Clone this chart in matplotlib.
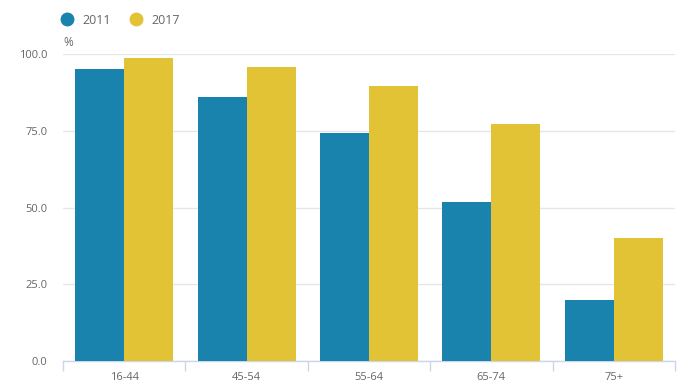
import matplotlib
matplotlib.use("Agg")
from matplotlib import pyplot as plt
from matplotlib.lines import Line2D
import numpy as np

plt.rcParams['font.family'] = ['Open Sans', 'DejaVu Sans']

categories = ["16-44", "45-54", "55-64", "65-74", "75+"]
series_names = ["2011", "2017"]
values_2011 = [95.1, 86.0, 74.3, 51.8, 19.9]
values_2017 = [98.7, 95.8, 89.6, 77.2, 40.1]
colors = ["#1a83ad", "#e3c336"]

fig = plt.figure(figsize=(6.9, 3.9), dpi=100)
ax = fig.add_axes([63/690, 29/390, 612/690, 307/390])

x = np.arange(len(categories))
w = 0.4
ax.bar(x - w/2, values_2011, width=w, color=colors[0], zorder=3)
ax.bar(x + w/2, values_2017, width=w, color=colors[1], zorder=3)

ax.set_xlim(-0.5, len(categories) - 0.5)
ax.set_ylim(0, 100)
ax.set_yticks([0, 25, 50, 75, 100])
ax.set_yticklabels(["0.0", "25.0", "50.0", "75.0", "100.0"])
ax.set_xticks(x)
ax.set_xticklabels(categories)
ax.set_xticks(np.arange(len(categories) + 1) - 0.5, minor=True)
ax.tick_params(axis='x', which='major', length=0, pad=8, labelsize=8, labelcolor="#666666")
ax.tick_params(axis='x', which='minor', length=7, width=1, color="#ccd6eb")
ax.tick_params(axis='y', length=0, pad=11, labelsize=8, labelcolor="#666666")
ax.grid(axis='y', color="#e6e6e6", linewidth=1, zorder=0)

for s in ["top", "right", "left"]:
    ax.spines[s].set_visible(False)
ax.spines["bottom"].set_color("#ccd6eb")
ax.spines["bottom"].set_linewidth(1)

ax.text(0, 1.015, "%", transform=ax.transAxes, fontsize=8.5, color="#666666",
        ha="left", va="bottom")

handles = [Line2D([], [], marker='o', linestyle='none', markersize=9,
                  markerfacecolor=c, markeredgecolor=c) for c in colors]
fig.legend(handles, series_names, loc="center left", bbox_to_anchor=(49/690, 1 - 20/390),
           ncol=2, frameon=False, fontsize=9, labelcolor="#666666",
           handletextpad=0.75, columnspacing=1.5, handlelength=1.0)

fig.savefig("out.png", dpi=100)
